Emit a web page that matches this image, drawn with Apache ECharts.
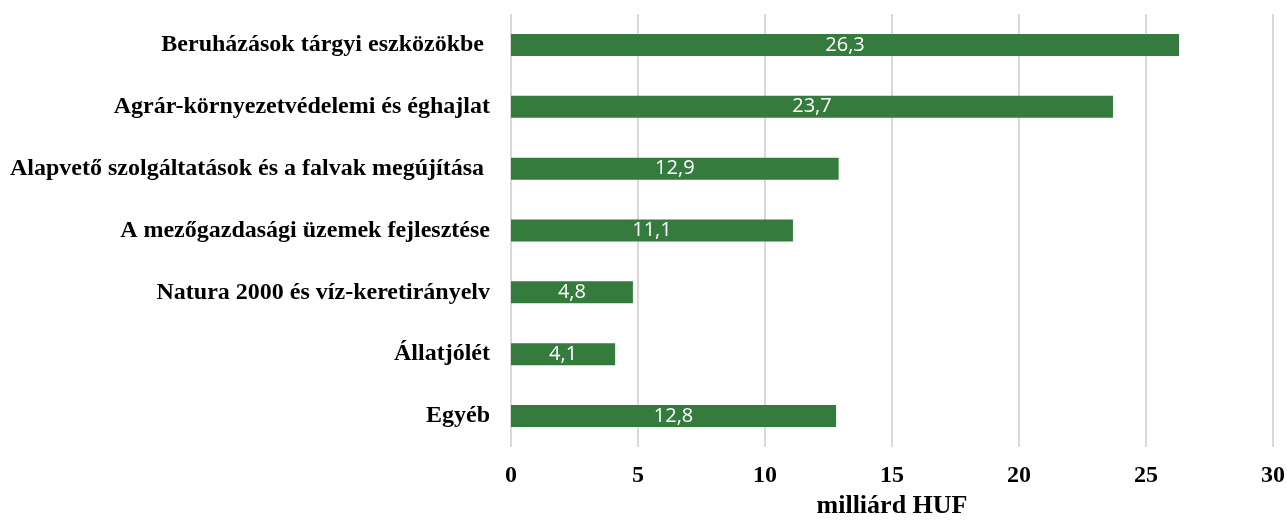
<!DOCTYPE html>
<html>
<head>
<meta charset="utf-8">
<script src="https://cdn.jsdelivr.net/npm/echarts@6/dist/echarts.min.js"></script>
<style>
  html, body { margin: 0; padding: 0; background: #fff; }
  #chart { width: 1287px; height: 522px; }
</style>
</head>
<body>
<div id="chart"></div>
<script>
// kategóriák felülről lefelé
const categories = [
  "Beruházások tárgyi eszközökbe ",
  "Agrár-környezetvédelemi és éghajlat",
  "Alapvető szolgáltatások és a falvak megújítása ",
  "A mezőgazdasági üzemek fejlesztése",
  "Natura 2000 és víz-keretirányelv",
  "Állatjólét",
  "Egyéb"
];
const values = [26.3, 23.7, 12.9, 11.1, 4.8, 4.1, 12.8];
const xTicks = [0, 5, 10, 15, 20, 25, 30];

const serif = "'Liberation Serif', 'Times New Roman', serif";

const myChart = echarts.init(document.getElementById("chart"));
myChart.setOption({
  animation: false,
  grid: {
    left: 511,
    right: 14,
    top: 14,
    bottom: 75,
    containLabel: false,
    outerBoundsMode: "none"
  },
  xAxis: {
    type: "value",
    min: xTicks[0],
    max: xTicks[xTicks.length - 1],
    interval: 5,
    name: "milliárd HUF",
    nameLocation: "middle",
    nameGap: 44,
    nameTextStyle: {
      fontFamily: serif,
      fontWeight: "bold",
      fontSize: 26,
      color: "#000"
    },
    axisLine: { show: false },
    axisTick: { show: false },
    axisLabel: {
      margin: 17,
      fontFamily: serif,
      fontWeight: "bold",
      fontSize: 24,
      color: "#000"
    },
    splitLine: {
      show: true,
      lineStyle: { color: "#d9d9d9", width: 2 }
    }
  },
  yAxis: {
    type: "category",
    inverse: true,
    data: categories,
    axisLine: { show: false },
    axisTick: { show: false },
    axisLabel: {
      margin: 21,
      fontFamily: serif,
      fontWeight: "bold",
      fontSize: 24,
      color: "#000"
    }
  },
  series: [
    {
      type: "bar",
      data: values,
      barWidth: 22,
      itemStyle: { color: "#367b3e" },
      label: {
        show: true,
        position: "inside",
        color: "#fff",
        fontFamily: "'Open Sans', sans-serif",
        fontSize: 20,
        formatter: p => String(p.value).replace(".", ",")
      }
    }
  ]
});
</script>
</body>
</html>
